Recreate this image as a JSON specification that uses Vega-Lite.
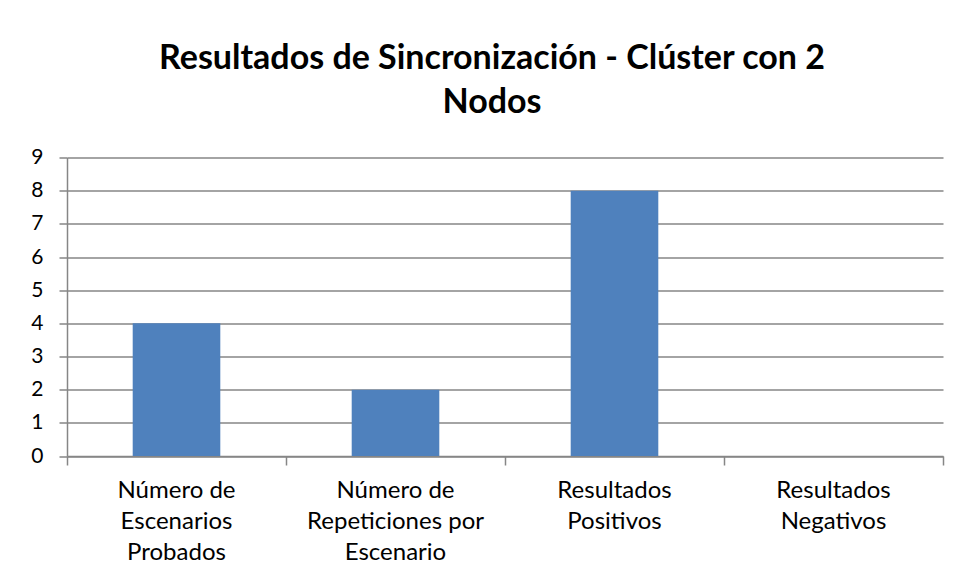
{
  "$schema": "https://vega.github.io/schema/vega-lite/v6.json",
  "width": 876,
  "height": 298.5,
  "autosize": "none",
  "padding": {"left": 67, "top": 157.5, "right": 13, "bottom": 125},
  "background": "white",
  "title": {
    "text": ["Resultados de Sincronización - Clúster con 2", "Nodos"],
    "anchor": "middle",
    "frame": "group",
    "font": "Lato",
    "fontSize": 34,
    "fontWeight": "bold",
    "color": "#000000",
    "lineHeight": 44,
    "offset": 27,
    "dx": -13
  },
  "data": {
    "values": [
      {"categoria": "Número de Escenarios Probados", "valor": 4},
      {"categoria": "Número de Repeticiones por Escenario", "valor": 2},
      {"categoria": "Resultados Positivos", "valor": 8},
      {"categoria": "Resultados Negativos", "valor": 0}
    ]
  },
  "mark": {"type": "bar", "color": "#4F81BD", "width": {"band": 0.4}},
  "encoding": {
    "x": {
      "field": "categoria",
      "type": "nominal",
      "sort": null,
      "title": null,
      "scale": {"paddingInner": 0, "paddingOuter": 0},
      "axis": {
        "labelAngle": 0,
        "bandPosition": 1,
        "tickExtra": true,
        "tickSize": 9,
        "tickColor": "#868686",
        "tickWidth": 1.5,
        "domainColor": "#868686",
        "domainWidth": 1.5,
        "labelFont": "Lato",
        "labelFontSize": 24,
        "labelColor": "#000000",
        "labelLineHeight": 31,
        "labelPadding": 13,
        "labelBaseline": "top",
        "labelExpr": "datum.value == null ? '' : datum.value == 'Número de Escenarios Probados' ? ['Número de', 'Escenarios', 'Probados'] : datum.value == 'Número de Repeticiones por Escenario' ? ['Número de', 'Repeticiones por', 'Escenario'] : datum.value == 'Resultados Positivos' ? ['Resultados', 'Positivos'] : datum.value == 'Resultados Negativos' ? ['Resultados', 'Negativos'] : ''"
      }
    },
    "y": {
      "field": "valor",
      "type": "quantitative",
      "title": null,
      "scale": {"domain": [0, 9], "nice": false},
      "axis": {
        "values": [0, 1, 2, 3, 4, 5, 6, 7, 8, 9],
        "gridColor": "#868686",
        "gridWidth": 1.5,
        "tickColor": "#868686",
        "tickWidth": 1.5,
        "tickSize": 8,
        "domainColor": "#868686",
        "domainWidth": 1.5,
        "labelFont": "Lato",
        "labelFontSize": 21,
        "labelColor": "#000000",
        "labelPadding": 16
      }
    }
  },
  "config": {"view": {"stroke": null}}
}
